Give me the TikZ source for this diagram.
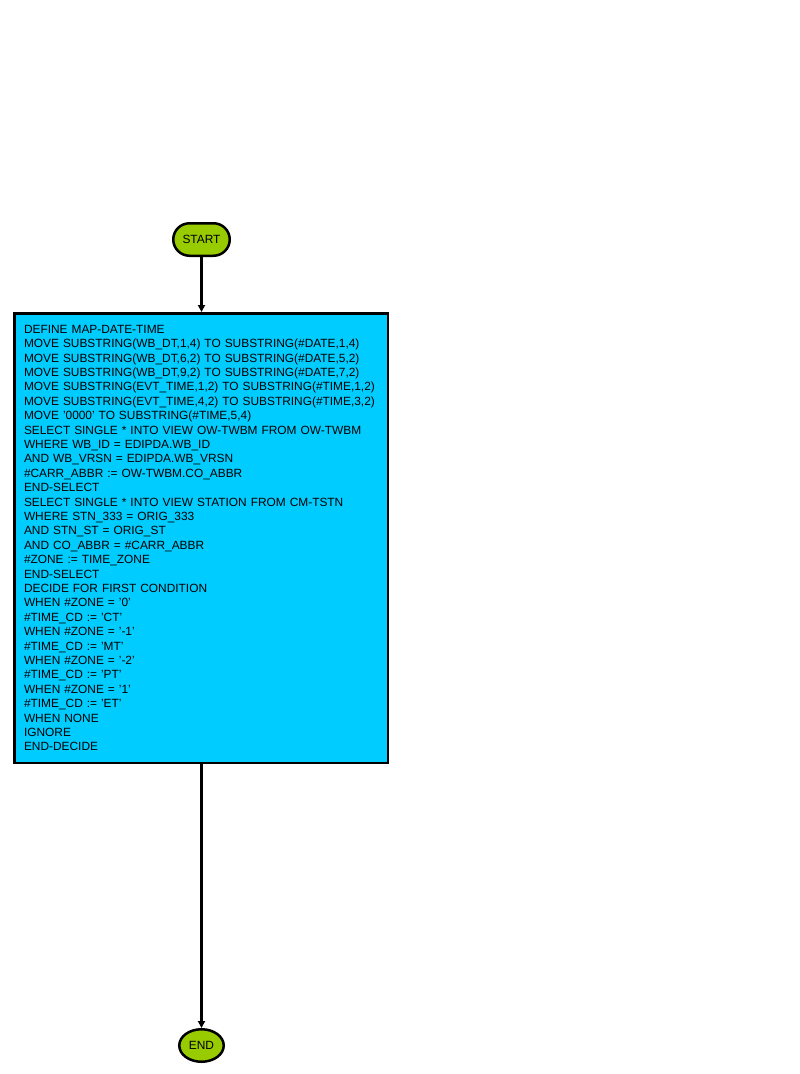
\documentclass[tikz,border=0pt]{standalone}
\usepackage{fontspec}
\setmainfont{Liberation Sans}
\usetikzlibrary{shapes.misc,shapes.geometric,arrows.meta}
\definecolor{termgreen}{HTML}{99CC00}
\definecolor{procblue}{HTML}{00CCFF}
\begin{document}
\begin{tikzpicture}[x=1pt,y=1pt,
  terminal/.style={draw=black, line width=2.5pt, fill=termgreen, rounded rectangle,
    font=\fontsize{11.9}{14.4}\selectfont, inner sep=0pt},
  process/.style={draw=black, line width=2.5pt, fill=procblue, rectangle,
    font=\fontsize{11.9}{14.4}\selectfont, align=left, text width=354pt,
    inner xsep=9.75pt, inner ysep=0pt, minimum height=449.5pt, anchor=north west},
  flow/.style={line width=2.3pt, -{Triangle[width=7pt,length=7pt]}}]
  \useasboundingbox (0,0) rectangle (800,-1074);
  \node[terminal, minimum width=56.5pt, minimum height=32.5pt] (start) at (201.5,-239.5) {START};
  \node[process] (body) at (13,-312) {DEFINE MAP-DATE-TIME\\
MOVE SUBSTRING(WB\_DT,1,4) TO SUBSTRING(\#DATE,1,4)\\
MOVE SUBSTRING(WB\_DT,6,2) TO SUBSTRING(\#DATE,5,2)\\
MOVE SUBSTRING(WB\_DT,9,2) TO SUBSTRING(\#DATE,7,2)\\
MOVE SUBSTRING(EVT\_TIME,1,2) TO SUBSTRING(\#TIME,1,2)\\
MOVE SUBSTRING(EVT\_TIME,4,2) TO SUBSTRING(\#TIME,3,2)\\
MOVE '0000' TO SUBSTRING(\#TIME,5,4)\\
SELECT SINGLE * INTO VIEW OW-TWBM FROM OW-TWBM\\
WHERE WB\_ID = EDIPDA.WB\_ID\\
AND WB\_VRSN = EDIPDA.WB\_VRSN\\
\#CARR\_ABBR := OW-TWBM.CO\_ABBR\\
END-SELECT\\
SELECT SINGLE * INTO VIEW STATION FROM CM-TSTN\\
WHERE STN\_333 = ORIG\_333\\
AND STN\_ST = ORIG\_ST\\
AND CO\_ABBR = \#CARR\_ABBR\\
\#ZONE := TIME\_ZONE\\
END-SELECT\\
DECIDE FOR FIRST CONDITION\\
WHEN \#ZONE = '0'\\
\#TIME\_CD := 'CT'\\
WHEN \#ZONE = '-1'\\
\#TIME\_CD := 'MT'\\
WHEN \#ZONE = '-2'\\
\#TIME\_CD := 'PT'\\
WHEN \#ZONE = '1'\\
\#TIME\_CD := 'ET'\\
WHEN NONE\\
IGNORE\\
END-DECIDE};
  \node[terminal, shape=ellipse, minimum width=44.5pt, minimum height=32.5pt] (end) at (201.5,-1045.5) {END};
  \draw[flow] (start.south) -- (start.south |- body.north);
  \draw[flow] (end.north |- body.south) -- (end.north);
\end{tikzpicture}
\end{document}
